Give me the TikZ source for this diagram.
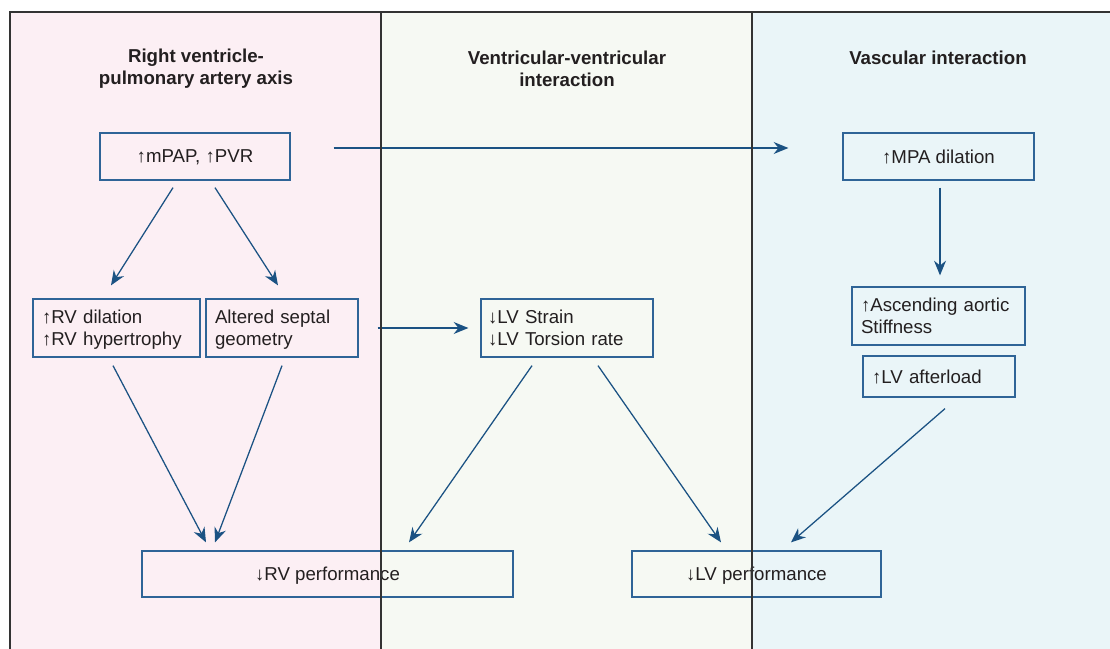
\documentclass[tikz,border=0pt]{standalone}
\usepackage{fontspec}
\setmainfont{Liberation Sans}
\usetikzlibrary{arrows.meta}

\definecolor{pinkbg}{HTML}{FCEFF4}
\definecolor{greenbg}{HTML}{F6F9F3}
\definecolor{bluebg}{HTML}{EAF5F8}
\definecolor{framegray}{HTML}{333333}
\definecolor{boxblue}{HTML}{2F6497}
\definecolor{arrblue}{HTML}{1B5283}
\definecolor{ink}{HTML}{231F20}

% one pixel of the drawing grid
\def\u{0.75pt}

\begin{document}
\begin{tikzpicture}[x=0.75pt,y=-0.75pt,
  bodyfont/.style={font=\fontsize{14}{16}\selectfont},
  titletext/.style={font=\bfseries\fontsize{14}{16.5}\selectfont, text=ink, align=center},
  box/.style={draw=boxblue, line width=0.95pt, rectangle, inner sep=0pt,
    text depth=0pt, bodyfont, text=ink, align=center},
  lbox/.style={box, align=left, inner xsep=6.75pt},
  twoline/.style={text depth=16.3pt},
  arr/.style={draw=arrblue, line width=0.95pt,
    -{Stealth[length=11pt,width=9pt,inset=3.6pt]}},
  framerule/.style={draw=framegray, line width=1.9pt}
]
\useasboundingbox (0,0) rectangle (1110,649);

% column backgrounds
\fill[pinkbg]  (10,12) rectangle (381,649);
\fill[greenbg] (381,12) rectangle (752,649);
\fill[bluebg]  (752,12) rectangle (1110,649);

% column headings
\node[titletext] (t1) at (196,69) {Right ventricle-\\pulmonary artery axis};
\node[titletext] (t2) at (567,69) {Ventricular-ventricular\\interaction};
\node[titletext] (t3) at (938,58) {Vascular interaction};

% boxes
\node[box, minimum width=142.5pt, minimum height=35.25pt] (mpap) at (195,156.5) {↑mPAP, ↑PVR};
\node[box, minimum width=143.25pt, minimum height=35.25pt] (mpa) at (938.5,156.5) {↑MPA dilation};

\node[lbox, twoline, text width=111.75pt, minimum height=43.5pt] (rvd) at (116.5,328) {↑RV dilation\\↑RV hypertrophy};
\node[lbox, twoline, text width=100.5pt, minimum height=43.5pt] (sep) at (282,328) {Altered septal\\geometry};
\node[lbox, twoline, inner xsep=5.25pt, text width=118.5pt, minimum height=43.5pt] (lvs) at (567,328) {↓LV Strain\\↓LV Torsion rate};

\node[lbox, twoline, text width=116.25pt, minimum height=43.5pt] (asc) at (938.5,316) {↑Ascending aortic\\Stiffness};
\node[lbox, text width=100.5pt, minimum height=30.75pt] (lva) at (939,376.5) {↑LV afterload};

\node[box, minimum width=278.25pt, minimum height=34.5pt] (rvp) at (327.5,574) {↓RV performance};
\node[box, minimum width=186.75pt, minimum height=34.5pt] (lvp) at (756.5,574) {↓LV performance};

% connectors
\draw[arr] ([xshift=-22*\u,yshift=-7*\u]mpap.south) -- ([xshift=-5.5*\u,yshift=13*\u]rvd.north);
\draw[arr] ([xshift=20*\u,yshift=-7*\u]mpap.south) -- ([xshift=-4*\u,yshift=13*\u]sep.north);
\draw[arr] ([xshift=43*\u,yshift=8.5*\u]mpap.east) -- ([xshift=-54*\u,yshift=8.5*\u]mpa.west);
\draw[arr] ([xshift=1.5*\u,yshift=-7*\u]mpa.south) -- ([xshift=1.5*\u,yshift=11*\u]asc.north);
\draw[arr] ([xshift=19*\u]sep.east) -- ([xshift=-12*\u]lvs.west);

\draw[arr] ([xshift=-3.5*\u,yshift=-8*\u]rvd.south) -- ([xshift=-121.5*\u,yshift=8*\u]rvp.north);
\draw[arr] ([yshift=-8*\u]sep.south) -- ([xshift=-112.5*\u,yshift=8*\u]rvp.north);
\draw[arr] ([xshift=-35*\u,yshift=-8*\u]lvs.south) -- ([xshift=81.5*\u,yshift=8*\u]rvp.north);
\draw[arr] ([xshift=31*\u,yshift=-8*\u]lvs.south) -- ([xshift=-35.5*\u,yshift=8*\u]lvp.north);
\draw[arr] ([xshift=6*\u,yshift=-11*\u]lva.south) -- ([xshift=34.5*\u,yshift=8*\u]lvp.north);

% column frame
\draw[framerule] (10,649) -- (10,12) -- (1110,12);
\draw[framerule] (381,12) -- (381,649);
\draw[framerule] (752,12) -- (752,649);
\end{tikzpicture}
\end{document}
